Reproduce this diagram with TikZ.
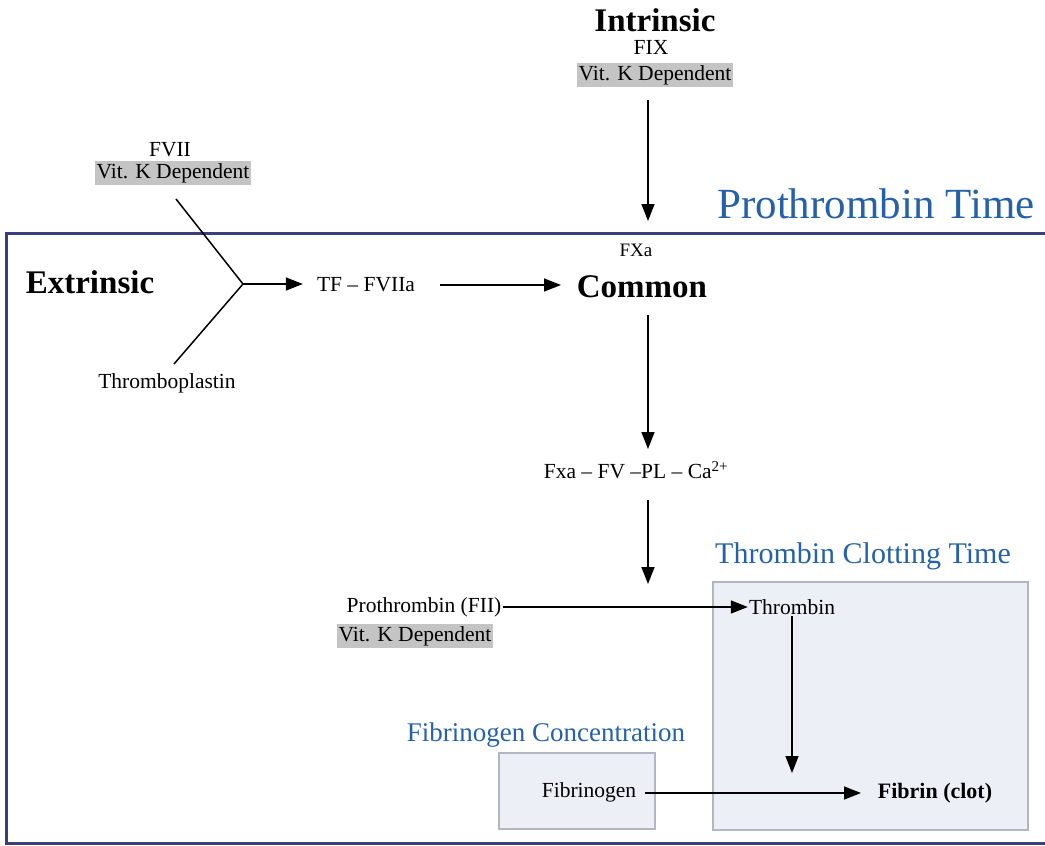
\documentclass[tikz,border=0pt]{standalone}
\usepackage{fontspec}
\setmainfont{Liberation Serif}
\usetikzlibrary{arrows.meta}
\definecolor{frameblue}{HTML}{3A3F7C}
\definecolor{titleblue}{HTML}{2461A8}
\definecolor{boxfill}{HTML}{EDEFF7}
\definecolor{boxline}{HTML}{B2B5C2}
\definecolor{vitgray}{HTML}{C4C4C4}
\tikzset{
  txt/.style={inner sep=1pt, font=\fontsize{21.5}{25}\selectfont},
  big/.style={inner sep=1pt, font=\fontsize{33}{38}\selectfont\bfseries},
  ttl/.style={inner sep=1pt, text=titleblue},
  vit/.style={txt, fill=vitgray, inner xsep=1.5pt, inner ysep=2pt},
  arr/.style={line width=1.5pt, -{Triangle[length=17pt,width=13pt]}},
  ln/.style={line width=1.5pt},
  testbox/.style={draw=boxline, line width=2pt, fill=boxfill}
}
\begin{document}
\begin{tikzpicture}[x=1pt,y=-1pt]
\useasboundingbox (0,0) rectangle (1045,846);
% frames
\draw[frameblue, line width=3pt] (6,233) rectangle (1046,843);
\draw[testbox] (713,582) rectangle (1028,830);
\draw[testbox] (499,753) rectangle (655,829);
% titles
\node[ttl, font=\fontsize{43}{48}\selectfont] (pt) at (876,204) {Prothrombin Time};
\node[ttl, font=\fontsize{30}{35}\selectfont] (tct) at (863,556) {Thrombin Clotting Time};
\node[ttl, font=\fontsize{27}{32}\selectfont] (fc) at (546,735) {Fibrinogen Concentration};
% intrinsic
\node[big] (intr) at (655,20) {Intrinsic};
\node[txt] (fix) at (651,47) {FIX};
\node[vit] (vk1) at (655,75) {Vit. K Dependent};
% extrinsic
\node[txt] (fvii) at (170,150) {FVII};
\node[vit] (vk2) at (173,173) {Vit. K Dependent};
\node[big] (extr) at (90,282) {Extrinsic};
\node[txt] (tpl) at (167,383) {Thromboplastin};
\node[txt, inner xsep=14pt] (tf) at (366,285) {TF – FVIIa};
\coordinate (ya) at (176,199);
\coordinate (yb) at (174,364);
\coordinate (j) at (243,284);
% common
\node[txt, font=\fontsize{19}{22}\selectfont] (fxa) at (636,250) {FXa};
\node[big] (common) at (642,287) {Common};
\node[txt] (pc) at (636,470) {Fxa – FV –PL – Ca\textsuperscript{2+}};
\node[txt] (pro) at (424,607) {Prothrombin (FII)};
\node[vit] (vk3) at (415,636) {Vit. K Dependent};
\node[txt] (thr) at (792,607) {Thrombin};
\node[txt] (fgn) at (589,792) {Fibrinogen};
\node[txt, font=\fontsize{22}{26}\selectfont\bfseries] (fib) at (935,793) {Fibrin (clot)};
% connectors
\coordinate (a1s) at (648,100);
\coordinate (a1e) at (648,221);
\draw[arr] (a1s) -- (a1e);
\draw[ln] (ya) -- (j) -- (yb);
\draw[arr] (j) -- (j -| tf.west);
\coordinate (a2s) at (440,285);
\coordinate (a2e) at (561,285);
\draw[arr] (a2s) -- (a2e);
\coordinate (a3s) at (648,315);
\coordinate (a3e) at (648,449);
\draw[arr] (a3s) -- (a3e);
\coordinate (a4s) at (648,500);
\coordinate (a4e) at (648,584);
\draw[arr] (a4s) -- (a4e);
\draw[arr] (pro.east) -- (pro.east -| thr.west);
\coordinate (a5e) at (792,773);
\draw[arr] (thr.south) -- (a5e);
\coordinate (a6s) at (645,793);
\coordinate (a6e) at (861,793);
\draw[arr] (a6s) -- (a6e);
\end{tikzpicture}
\end{document}
